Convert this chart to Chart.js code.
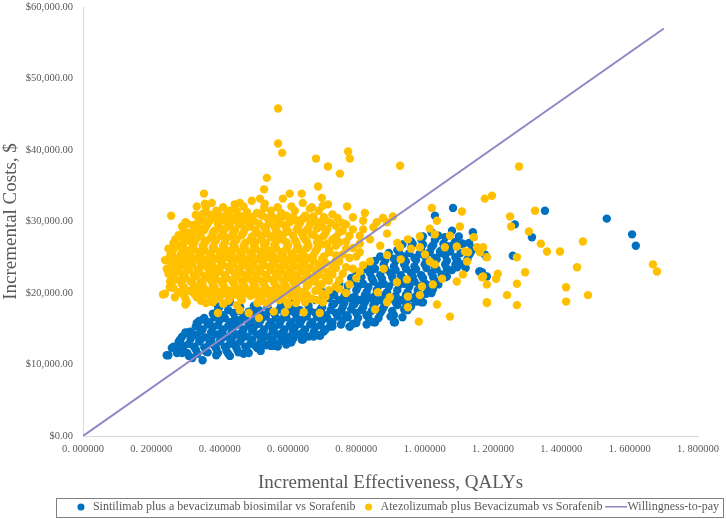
<!DOCTYPE html>
<html>
<head>
<meta charset="utf-8">
<script src="https://cdn.jsdelivr.net/npm/chart.js@4"></script>
<style>
  html, body { margin: 0; padding: 0; background: #fff; }
  #wrap { width: 726px; height: 519px; position: relative; }
</style>
</head>
<body>
<div id="wrap"><canvas id="ceChart"></canvas></div>
<script>
// Incremental effectiveness (QALYs) vs incremental cost ($)
const sintilimabPoints = [
    // lower / left edge
    [0.245,11300],[0.284,13400],[0.304,14400],[0.333,15800],[0.290,11600],[0.278,12600],[0.313,14600],[0.351,16300],[0.395,18100],[0.430,18800],
    [0.524,12800],[0.562,12600],[0.606,13100],[0.644,13500],[0.694,14000],[0.723,15300],[0.781,15300],[0.855,15900],[0.913,15900],[0.948,17700],[0.995,18700],[1.024,20500],[1.065,22300],
    // band
    [0.25,11300],[0.31,11200],[0.32,10900],[0.35,10600],[0.39,11300],[0.43,11200],[0.47,11500],
    [0.275,11600],[0.305,11600],[0.335,11500],[0.365,11700],[0.395,11600],[0.425,11500],[0.455,11700],[0.485,11600],[0.52,11900],
    [0.26,12300],[0.29,11900],[0.33,12100],[0.36,11800],[0.39,12200],[0.42,11900],[0.45,12200],[0.48,11900],[0.51,12300],[0.55,12600],[0.57,12500],
    [0.265,12500],[0.295,12600],[0.325,12500],[0.355,12400],[0.385,12600],[0.415,12500],[0.445,12700],[0.475,12500],[0.505,12600],[0.535,12700],[0.565,12800],[0.595,12800],
    [0.28,13200],[0.31,12900],[0.34,13200],[0.37,12900],[0.40,13200],[0.43,12900],[0.46,13200],[0.49,12900],[0.52,13200],[0.55,13000],[0.58,13300],[0.61,13100],[0.64,13500],
    [0.285,13500],[0.315,13600],[0.345,13500],[0.375,13400],[0.405,13600],[0.435,13500],[0.465,13700],[0.495,13500],[0.525,13600],[0.555,13500],[0.585,13700],[0.615,13600],[0.645,13800],[0.675,13900],
    [0.29,13900],[0.30,14500],[0.33,14100],[0.36,13800],[0.39,14200],[0.42,13900],[0.45,14200],[0.48,13900],[0.51,14200],[0.54,13900],[0.57,14200],[0.60,13900],[0.63,14200],[0.66,13900],[0.69,14100],
    [0.315,14500],[0.345,14600],[0.375,14500],[0.405,14400],[0.435,14600],[0.465,14500],[0.495,14700],[0.525,14500],[0.555,14600],[0.585,14500],[0.615,14700],[0.645,14600],[0.675,14500],[0.705,14600],
    [0.33,15300],[0.35,14900],[0.38,15200],[0.41,14900],[0.44,15200],[0.47,14900],[0.50,15200],[0.53,14900],[0.56,15200],[0.59,14900],[0.62,15200],[0.65,14900],[0.68,15200],[0.71,14900],[0.73,15300],[0.78,15300],
    [0.335,15500],[0.365,15600],[0.395,15500],[0.425,15400],[0.455,15600],[0.485,15500],[0.515,15700],[0.545,15500],[0.575,15600],[0.605,15500],[0.635,15700],[0.665,15600],[0.695,15500],[0.725,15700],[0.755,15600],[0.79,15700],[0.83,15600],
    [0.34,16100],[0.37,15900],[0.40,16200],[0.43,15900],[0.46,16200],[0.49,15900],[0.52,16200],[0.55,15900],[0.58,16200],[0.61,15900],[0.64,16200],[0.67,15900],[0.70,16200],[0.73,15900],[0.76,16200],[0.80,15800],[0.85,15900],[0.91,15900],
    [0.355,16500],[0.385,16600],[0.415,16500],[0.445,16400],[0.475,16600],[0.505,16500],[0.535,16700],[0.565,16500],[0.595,16600],[0.625,16500],[0.655,16700],[0.685,16600],[0.715,16500],[0.745,16700],[0.775,16600],[0.805,16500],[0.835,16600],[0.865,16500],[0.90,16700],[0.935,16600],
    [0.38,17100],[0.41,16900],[0.44,17200],[0.47,16900],[0.50,17200],[0.53,16900],[0.56,17100],[0.59,16900],[0.62,17200],[0.65,16900],[0.68,17200],[0.71,16900],[0.74,17200],[0.77,16900],[0.80,17200],[0.83,16900],[0.87,17200],[0.91,16900],[0.95,17600],
    [0.395,17500],[0.425,17600],[0.455,17500],[0.485,17400],[0.515,17600],[0.545,17500],[0.575,17700],[0.605,17500],[0.635,17600],[0.665,17500],[0.695,17700],[0.725,17600],[0.755,17500],[0.785,17700],[0.815,17600],[0.845,17500],[0.875,17600],[0.905,17500],[0.94,17700],
    [0.40,18100],[0.43,18700],[0.46,18000],[0.50,18200],[0.54,18000],[0.58,18200],[0.62,18000],[0.66,18200],[0.70,18000],[0.73,18300],[0.76,18000],[0.79,18300],[0.82,18000],[0.85,18300],[0.88,18000],[0.92,18300],[0.96,18100],[0.99,18700],
    [0.735,18500],[0.765,18600],[0.795,18500],[0.825,18700],[0.855,18600],[0.885,18500],[0.915,18700],[0.945,18600],[0.975,18800],
    [0.55,19200],[0.62,19100],[0.68,19000],[0.72,19300],[0.75,19000],[0.78,19300],[0.81,19000],[0.84,19300],[0.87,19000],[0.90,19300],[0.93,19000],[0.96,19300],[0.99,19600],[1.02,20000],
    [0.705,19600],[0.735,19700],[0.765,19600],[0.795,19500],[0.825,19700],[0.855,19600],[0.885,19800],[0.915,19600],[0.945,19700],[0.975,19600],[1.005,19900],
    [0.70,20100],[0.74,20400],[0.77,20100],[0.80,20400],[0.83,20100],[0.86,20400],[0.89,20100],[0.92,20400],[0.95,20100],[0.98,20400],[1.01,20600],[1.04,21200],
    [0.745,20900],[0.775,21000],[0.805,20900],[0.835,20800],[0.865,21000],[0.895,20900],[0.925,21100],[0.955,20900],[0.985,21000],[1.015,21100],
    [0.75,21300],[0.79,21600],[0.82,21300],[0.85,21600],[0.88,21300],[0.91,21600],[0.94,21300],[0.97,21600],[1.00,21400],[1.03,21700],[1.06,22200],
    [0.785,22100],[0.815,22200],[0.845,22100],[0.875,22000],[0.905,22200],[0.935,22100],[0.965,22300],[0.995,22100],[1.025,22200],[1.055,22400],
    [0.80,22500],[0.84,22800],[0.87,22500],[0.90,22800],[0.93,22500],[0.96,22800],[0.99,22500],[1.02,22800],[1.05,22600],[1.08,23200],[1.12,23500],
    [0.825,23300],[0.855,23400],[0.885,23300],[0.915,23200],[0.945,23400],[0.975,23300],[1.005,23500],[1.035,23300],[1.065,23400],[1.095,23600],
    [0.84,23700],[0.88,24000],[0.91,23700],[0.94,24000],[0.97,23700],[1.00,24000],[1.03,23700],[1.06,24000],[1.09,24000],[1.11,24000],[1.16,23000],
    [0.855,24500],[0.885,24600],[0.915,24500],[0.945,24400],[0.975,24600],[1.005,24500],[1.035,24700],[1.065,24500],[1.095,24600],[1.125,24700],
    [0.87,25100],[0.91,24800],[0.94,25100],[0.97,24900],[1.00,25200],[1.03,24900],[1.06,25300],[1.09,25000],[1.13,25300],[1.18,25100],[1.176,25400],
    [0.895,25600],[0.925,25700],[0.955,25600],[0.985,25500],[1.015,25700],[1.045,25600],[1.075,25800],[1.105,25600],[1.135,25700],[1.16,25900],
    [0.92,26000],[0.96,26300],[0.99,26000],[1.02,26400],[1.05,26000],[1.07,26500],[1.09,27100],[1.11,26900],[1.14,26300],
    [0.935,26800],[0.965,26900],[0.995,26800],[1.025,26700],[1.055,26900],[1.085,26800],[1.13,27000],
    [0.96,27200],[0.99,27500],[1.03,27400],[1.06,27800],[1.02,28500],[1.141,28500],[1.08,28700],
    [0.995,27900],[1.04,28000],[1.10,27900],
    [1.112,26900],[1.089,27100],[1.065,26500],[1.045,25800],[1.094,24000],[1.112,24000],[1.162,23000],
    // outliers
    [1.083,31900],[1.030,30800],[1.352,31500],[1.533,30400],[1.607,28200],[1.618,26600],[1.314,27800],[1.264,29600],[1.258,25200],[1.168,22900],[1.182,22300]
];

const atezolizumabPoints = [
    // outliers and right-hand scatter
    [0.571,45800],[0.571,40900],[0.583,39600],[0.776,39800],[0.781,38800],[0.682,38800],[0.717,37700],[0.752,36700],[0.928,37800],[0.538,36100],[0.530,34500],[0.688,34900],[0.354,33900],[0.258,30800],[1.176,33200],[1.197,33600],[1.021,31900],[1.109,31400],
    [1.276,37700],[1.323,31500],[1.250,30700],[1.253,29300],[1.305,28600],[1.340,26900],[1.358,25800],[1.396,25800],[1.463,27200],[1.270,25000],[1.171,26400],[1.446,23600],[1.294,22900],[1.214,22700],[1.209,22000],[1.182,21200],[1.270,21300],[1.414,20800],[1.241,19700],[1.414,18800],[1.478,19700],[1.182,18600],[1.270,18300],[1.668,24000],[1.680,23000],[1.182,25000],[1.171,22300],
    [1.036,30100],[1.103,29300],[1.144,27800],[1.074,28000],[1.015,29000],[1.030,28200],[0.986,27900],[1.118,25800],[1.127,25700],[1.094,26500],[1.059,26400],[1.162,25700],[1.153,26400],[1.124,24400],[1.112,22600],[1.094,21600],[1.168,22200],[1.182,18700],[1.074,16700],[0.983,16000],[1.036,18400],[0.951,18000],[0.951,19500],[1.051,22000],[1.024,21200],[0.992,20900],[0.986,19700],[0.919,21500],[0.948,21900],[0.863,20100],[0.898,19400],[0.855,17700],[0.890,18700],[1.015,24400],[1.030,24000],[1.001,25400],[0.986,26400],[0.951,27500],[0.928,26400],[0.890,29900],[0.907,30700],[0.878,30500],[0.860,29900],[0.825,31200],[0.773,32100],[0.717,32400],
    // upper edge
    [0.377,32600],[0.357,32500],[0.333,32100],[0.459,32600],[0.444,32400],[0.430,31500],[0.494,32900],[0.518,33200],[0.532,32500],[0.605,33900],[0.640,33900],[0.643,32600],[0.585,33200],[0.699,33300],[0.702,32200],[0.664,31800],[0.395,31200],[0.371,30100],[0.351,31100],[0.415,30100],[0.450,30600],[0.509,31200],[0.488,30600],[0.567,30400],[0.596,30800],[0.626,30100],[0.655,30600],[0.313,27300],[0.292,26400],[0.275,23900],[0.304,23900],[0.322,28500],[0.342,29000],
    [0.36,32000],[0.41,32000],[0.47,32100],[0.53,31900],[0.57,32000],[0.61,32100],[0.67,32000],
    // left and lower edge
    [0.269,23600],[0.304,23600],[0.260,22000],[0.292,22500],[0.240,19900],[0.254,20800],[0.269,19400],[0.292,19900],[0.304,18700],[0.333,19400],[0.336,20800],[0.365,19900],[0.380,18700],[0.395,17200],[0.459,17600],[0.485,17200],[0.515,16500],[0.558,17400],[0.591,17300],[0.596,18800],[0.623,18600],[0.646,17300],[0.693,17200],[0.702,18700],[0.234,19800],[0.264,23500],[0.275,23700],[0.300,18400],
    // dense core
    [0.39,31500],[0.45,31500],[0.55,31500],[0.62,31500],[0.69,31500],
    [0.33,30900],[0.37,31000],[0.42,31000],[0.48,31300],[0.52,31000],[0.58,31200],[0.65,30800],[0.73,31000],[0.79,30600],
    [0.345,30600],[0.375,30700],[0.405,30600],[0.435,30500],[0.465,30700],[0.495,30600],[0.525,30800],[0.555,30600],[0.585,30700],[0.615,30600],[0.645,30500],[0.675,30700],[0.705,30600],[0.745,30500],
    [0.30,29900],[0.35,30200],[0.39,30400],[0.44,30200],[0.47,30200],[0.50,30100],[0.54,30500],[0.57,30200],[0.61,30300],[0.64,30200],[0.68,30000],[0.71,30200],[0.76,29800],[0.82,30100],
    [0.305,29700],[0.335,29800],[0.365,29700],[0.395,29600],[0.425,29800],[0.455,29700],[0.485,29900],[0.515,29700],[0.545,29800],[0.575,29700],[0.605,29900],[0.635,29800],[0.665,29700],[0.695,29900],[0.725,29800],[0.77,29600],
    [0.29,29300],[0.32,29500],[0.36,29300],[0.40,29100],[0.43,29300],[0.46,29600],[0.49,29300],[0.53,29200],[0.56,29300],[0.59,29500],[0.63,29300],[0.66,29100],[0.70,29300],[0.74,29400],[0.79,28900],[0.85,29200],
    [0.295,28800],[0.325,28900],[0.355,28800],[0.385,28700],[0.415,28900],[0.445,28800],[0.475,29000],[0.505,28800],[0.535,28900],[0.565,28800],[0.595,29000],[0.625,28900],[0.655,28800],[0.685,29000],[0.715,28900],[0.76,28700],[0.82,28900],
    [0.28,28100],[0.31,28400],[0.34,28600],[0.38,28400],[0.41,28200],[0.44,28400],[0.47,28500],[0.51,28400],[0.54,28300],[0.57,28400],[0.60,28600],[0.64,28400],[0.67,28200],[0.71,28400],[0.75,28500],[0.81,28000],[0.89,28300],
    [0.285,27900],[0.315,28000],[0.345,27900],[0.375,27800],[0.405,28000],[0.435,27900],[0.465,28100],[0.495,27900],[0.525,28000],[0.555,27900],[0.585,28100],[0.615,28000],[0.645,27900],[0.675,28100],[0.705,28000],[0.74,27800],[0.78,28000],
    [0.27,27500],[0.30,27700],[0.33,27500],[0.36,27300],[0.39,27500],[0.42,27700],[0.45,27500],[0.49,27400],[0.52,27500],[0.55,27800],[0.58,27500],[0.62,27400],[0.65,27500],[0.69,27600],[0.73,27500],[0.77,27200],[0.84,27500],[0.92,27000],
    [0.265,27000],[0.295,27100],[0.325,27000],[0.355,26900],[0.385,27100],[0.415,27000],[0.445,27200],[0.475,27000],[0.505,27100],[0.535,27000],[0.565,27200],[0.595,27100],[0.625,27000],[0.655,27200],[0.685,27100],[0.715,26900],[0.75,27100],[0.81,26900],
    [0.25,26200],[0.28,26600],[0.32,26800],[0.35,26600],[0.38,26400],[0.41,26600],[0.44,26800],[0.47,26600],[0.50,26500],[0.53,26600],[0.56,26700],[0.60,26600],[0.63,26400],[0.66,26600],[0.70,26800],[0.74,26600],[0.79,26300],[0.87,26600],[0.96,26200],
    [0.265,26100],[0.295,26200],[0.325,26100],[0.355,26000],[0.385,26200],[0.415,26100],[0.445,26300],[0.475,26100],[0.505,26200],[0.535,26100],[0.565,26300],[0.595,26200],[0.625,26100],[0.655,26300],[0.685,26200],[0.72,26000],[0.77,26200],
    [0.26,25400],[0.29,25700],[0.31,25900],[0.34,25700],[0.37,25500],[0.40,25700],[0.43,25900],[0.46,25700],[0.49,25600],[0.52,25700],[0.55,25900],[0.58,25700],[0.61,25500],[0.64,25700],[0.68,25800],[0.72,25700],[0.76,25400],[0.81,25700],[0.89,25300],
    [0.255,25200],[0.285,25300],[0.315,25200],[0.345,25100],[0.375,25300],[0.405,25200],[0.435,25400],[0.465,25200],[0.495,25300],[0.525,25200],[0.555,25400],[0.585,25300],[0.615,25200],[0.645,25400],[0.675,25300],[0.705,25100],[0.74,25300],[0.80,25100],
    [0.24,24600],[0.27,24800],[0.30,25000],[0.33,24800],[0.36,24600],[0.39,24800],[0.42,25000],[0.45,24800],[0.48,24700],[0.51,24800],[0.54,25000],[0.57,24800],[0.60,24600],[0.63,24800],[0.66,24900],[0.70,24800],[0.74,24500],[0.78,24900],[0.84,24400],[0.93,24700],
    [0.255,24300],[0.285,24400],[0.315,24300],[0.345,24200],[0.375,24400],[0.405,24300],[0.435,24500],[0.465,24300],[0.495,24400],[0.525,24300],[0.555,24500],[0.585,24400],[0.615,24300],[0.645,24500],[0.675,24400],[0.71,24200],[0.75,24400],
    [0.26,23700],[0.29,23900],[0.32,24100],[0.35,23900],[0.38,23700],[0.41,23900],[0.44,24100],[0.47,23900],[0.50,23800],[0.53,23900],[0.56,24100],[0.59,23900],[0.62,23700],[0.65,23900],[0.69,24000],[0.73,23900],[0.77,23600],[0.82,23900],[0.88,23400],
    [0.245,23400],[0.275,23500],[0.305,23400],[0.335,23300],[0.365,23500],[0.395,23400],[0.425,23600],[0.455,23400],[0.485,23500],[0.515,23400],[0.545,23600],[0.575,23500],[0.605,23400],[0.635,23600],[0.665,23500],[0.70,23300],[0.74,23500],[0.79,23400],
    [0.25,22700],[0.28,23000],[0.31,23200],[0.34,23000],[0.37,22800],[0.40,23000],[0.43,23200],[0.46,23000],[0.49,22900],[0.52,23000],[0.55,23200],[0.58,23000],[0.61,22800],[0.64,23000],[0.68,23100],[0.72,23000],[0.76,22700],[0.81,23000],
    [0.265,22500],[0.295,22600],[0.325,22500],[0.355,22400],[0.385,22600],[0.415,22500],[0.445,22700],[0.475,22500],[0.505,22600],[0.535,22500],[0.565,22700],[0.595,22600],[0.625,22500],[0.655,22700],[0.69,22500],[0.73,22600],
    [0.27,21900],[0.30,22100],[0.33,22300],[0.36,22100],[0.39,21900],[0.42,22100],[0.45,22300],[0.48,22100],[0.51,22000],[0.54,22100],[0.57,22300],[0.60,22100],[0.63,21900],[0.67,22100],[0.71,22200],[0.75,21800],[0.80,22100],
    [0.255,21600],[0.285,21700],[0.315,21600],[0.345,21500],[0.375,21700],[0.405,21600],[0.435,21800],[0.465,21600],[0.495,21700],[0.525,21600],[0.555,21800],[0.585,21700],[0.615,21600],[0.645,21800],[0.68,21600],[0.72,21700],
    [0.26,21000],[0.29,21200],[0.32,21400],[0.35,21200],[0.38,21000],[0.41,21200],[0.44,21400],[0.47,21200],[0.50,21100],[0.53,21200],[0.56,21400],[0.59,21200],[0.62,21000],[0.66,21200],[0.70,21300],[0.74,20900],[0.78,21200],
    [0.265,20700],[0.295,20800],[0.325,20700],[0.355,20600],[0.385,20800],[0.415,20700],[0.445,20900],[0.475,20700],[0.505,20800],[0.535,20700],[0.565,20900],[0.595,20800],[0.625,20700],[0.655,20900],[0.69,20700],[0.75,20600],
    [0.28,20100],[0.31,20300],[0.34,20500],[0.37,20300],[0.40,20100],[0.43,20300],[0.46,20500],[0.49,20300],[0.52,20200],[0.55,20300],[0.58,20500],[0.61,20300],[0.64,20100],[0.68,20300],[0.72,20400],[0.77,20000],
    [0.295,19800],[0.325,19900],[0.355,19800],[0.385,19700],[0.415,19900],[0.445,19800],[0.475,20000],[0.505,19800],[0.535,19900],[0.565,19800],[0.595,20000],[0.625,19900],[0.655,19800],[0.70,19900],
    [0.30,19200],[0.34,19400],[0.37,19600],[0.40,19400],[0.43,19200],[0.46,19400],[0.49,19600],[0.52,19400],[0.55,19300],[0.58,19400],[0.61,19600],[0.64,19400],[0.67,19200],[0.71,19500],
    [0.345,18900],[0.385,19000],[0.425,18900],[0.465,19000],[0.525,18900],[0.575,19000],[0.625,18900],[0.685,19000],
    [0.36,18600],[0.41,18500],[0.45,18300],[0.51,18600],[0.54,18500],[0.60,18400],[0.65,18700]
];

const wtpLine = [[0, 0], [1.7, 57000]];

const seriesNames = [
    'Sintilimab plus a bevacizumab biosimilar vs Sorafenib',
    'Atezolizumab plus Bevacizumab vs Sorafenib',
    'Willingness-to-pay'
];

const blue = '#0070C0';
const yellow = '#FFC000';
const purple = '#8E88C6';
const textGrey = '#595959';
const serif = '"Liberation Serif", "Times New Roman", serif';

function toXY(list) {
    return list.map(p => ({ x: p[0], y: p[1] }));
}

// small line swatch for the legend
const lineSwatch = document.createElement('canvas');
lineSwatch.width = 22;
lineSwatch.height = 3;
(function () {
    const c = lineSwatch.getContext('2d');
    c.fillStyle = purple;
    c.fillRect(0, 0, 22, 2);
})();

// legend: fixed height, and a frame round the items like the original
const legendFrame = {
    id: 'legendFrame',
    afterInit(chart) {
        const lg = chart.legend;
        if (!lg) return;
        const fit = lg.fit.bind(lg);
        lg.fit = function () {
            fit();
            this.height = 25;
        };
    },
    afterDraw(chart) {
        const lg = chart.legend;
        if (!lg || !lg.legendHitBoxes.length) return;
        const boxes = lg.legendHitBoxes;
        const left = boxes[0].left - 19;
        const right = Math.min(chart.width - 3, boxes[boxes.length - 1].left + boxes[boxes.length - 1].width + 4);
        const top = boxes[0].top - 3;
        const h = boxes[0].height + 7;
        const ctx = chart.ctx;
        ctx.save();
        ctx.strokeStyle = '#7F7F7F';
        ctx.lineWidth = 1;
        ctx.strokeRect(Math.round(left) + 0.5, Math.round(top) + 0.5, Math.round(right - left), Math.round(h));
        ctx.restore();
    }
};

const ctx = document.getElementById('ceChart');
new Chart(ctx, {
    type: 'scatter',
    data: {
        datasets: [
            {
                label: seriesNames[0],
                data: toXY(sintilimabPoints),
                backgroundColor: blue,
                borderColor: blue,
                borderWidth: 0,
                pointRadius: 4.2,
                pointStyle: 'circle',
                order: 3
            },
            {
                label: seriesNames[1],
                data: toXY(atezolizumabPoints),
                backgroundColor: yellow,
                borderColor: yellow,
                borderWidth: 0,
                pointRadius: 4.2,
                pointStyle: 'circle',
                order: 2
            },
            {
                label: seriesNames[2],
                data: toXY(wtpLine),
                showLine: true,
                borderColor: purple,
                backgroundColor: purple,
                borderWidth: 2,
                pointRadius: 0,
                pointStyle: lineSwatch,
                order: 1
            }
        ]
    },
    options: {
        responsive: true,
        maintainAspectRatio: false,
        animation: false,
        layout: { autoPadding: false, padding: { top: 0, right: 0, bottom: 0, left: 0 } },
        plugins: {
            legend: {
                position: 'bottom',
                align: 'end',
                labels: {
                    usePointStyle: true,
                    boxHeight: 5,
                    padding: 7,
                    color: textGrey,
                    font: { family: serif, size: 12 },
                    sort: (a, b) => a.datasetIndex - b.datasetIndex
                }
            },
            tooltip: { enabled: false }
        },
        scales: {
            x: {
                type: 'linear',
                min: 0,
                max: 1.8,
                grid: { display: false, drawTicks: false },
                border: { color: '#D9D9D9' },
                ticks: {
                    stepSize: 0.2,
                    autoSkip: false,
                    maxRotation: 0,
                    padding: 7,
                    color: textGrey,
                    font: { family: serif, size: 10.5 },
                    callback: v => v.toFixed(6).replace('.', '. ')
                },
                title: {
                    display: true,
                    text: 'Incremental Effectiveness, QALYs',
                    color: textGrey,
                    font: { family: serif, size: 19 },
                    padding: 0
                },
                afterFit: s => { s.height = 58; }
            },
            y: {
                min: 0,
                max: 60000,
                grid: { display: false, drawTicks: false },
                border: { color: '#D9D9D9' },
                ticks: {
                    stepSize: 10000,
                    padding: 10,
                    color: textGrey,
                    font: { family: serif, size: 10.5 },
                    callback: v => '$' + v.toLocaleString('en-US', { minimumFractionDigits: 2, maximumFractionDigits: 2 })
                },
                title: {
                    display: true,
                    text: 'Incremental Costs, $',
                    color: textGrey,
                    font: { family: serif, size: 19 },
                    padding: 0
                },
                afterFit: s => {
                    s.width = 83;
                    s.paddingTop = 7;
                    s.paddingBottom = 7;
                }
            }
        }
    },
    plugins: [legendFrame]
});
</script>
</body>
</html>
